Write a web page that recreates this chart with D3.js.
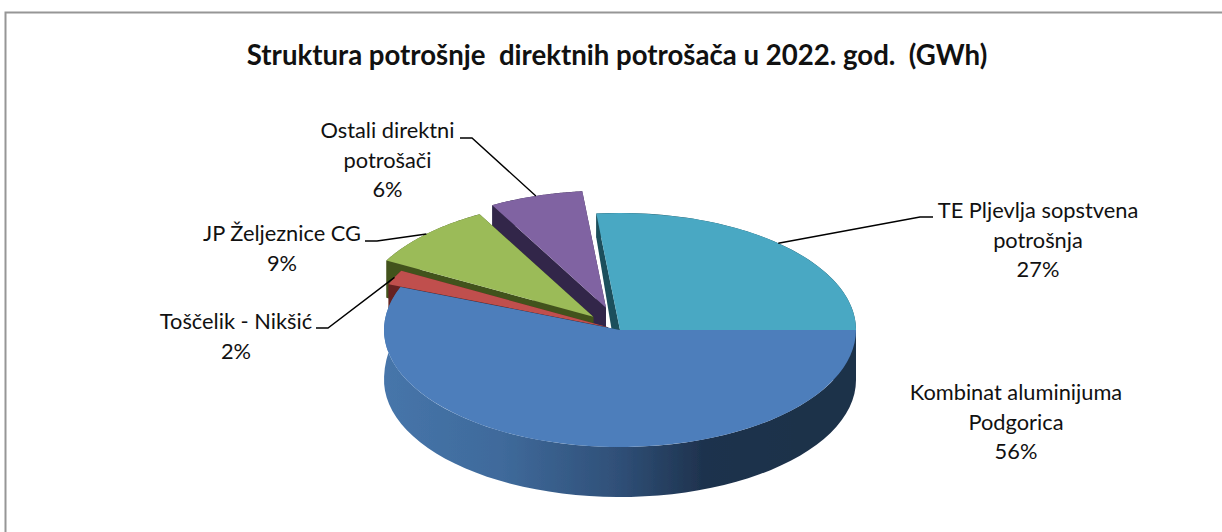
<!DOCTYPE html>
<html>
<head>
<meta charset="utf-8">
<script src="https://cdn.jsdelivr.net/npm/d3@7"></script>
<style>
  html, body { margin: 0; background: #fff; }
  text { font-family: Lato, "Open Sans", sans-serif; fill: #111; }
</style>
</head>
<body>
<svg></svg>
<script>
// Data, in drawing order clockwise from 3 o'clock
const titleText = "Struktura potrošnje  direktnih potrošača u 2022. god.  (GWh)";
const categories = [
  ["Kombinat aluminijuma", "Podgorica"],
  ["Toščelik - Nikšić"],
  ["JP Željeznice CG"],
  ["Ostali direktni", "potrošači"],
  ["TE Pljevlja sopstvena", "potrošnja"],
];
const shares = [56.0, 2.0, 9.0, 6.4, 26.6];

// Styling, one entry per slice
const explode = [0, 0.056, 0.16, 0.2, 0];
const topColors = ["#4d7ebb", "#c0504d", "#9bbb59", "#8064a2", "#4aa8c3"];
const wallColors = ["url(#blueWall)", "#662422", "#43531f", "#33274a", "#1d505c"];
// back to front
const paintOrder = [4, 3, 2, 1, 0];

// Label block centre, first baseline, leader elbow and leader tail
const labelLayout = [
  { x: 1016, y: 400 },
  { x: 236, y: 329, elbow: [328, 328], tail: 316 },
  { x: 282, y: 241, elbow: [377, 241], tail: 365 },
  { x: 387.5, y: 138, elbow: [472, 138], tail: 460 },
  { x: 1038, y: 218, elbow: [920, 217], tail: 933 },
];

const width = 1222;
const height = 532;
const cx = 620;
const cy = 330;
const rx = 236;
const ry = 117;
const depth = 50;
const lineHeight = 29.5;

const svg = d3.select("svg").attr("width", width).attr("height", height)
  .style("display", "block");

const defs = svg.append("defs");
const grad = defs.append("linearGradient")
  .attr("id", "blueWall")
  .attr("gradientUnits", "userSpaceOnUse")
  .attr("x1", cx - rx).attr("x2", cx + rx).attr("y1", 0).attr("y2", 0);
[[0, "#4675aa"], [0.25, "#3f6a9b"], [0.5, "#2f4f77"], [0.68, "#1e324d"], [1, "#1d3048"]]
  .forEach(([o, c]) => grad.append("stop").attr("offset", o).attr("stop-color", c));
defs.append("filter").attr("id", "soft")
  .append("feGaussianBlur").attr("stdDeviation", 0.55);

// Chart border runs off the right and bottom of the picture
svg.append("path")
  .attr("d", d3.line()([[5.5, height], [5.5, 12.5], [width, 12.5]]))
  .attr("fill", "none")
  .attr("stroke", "#969696")
  .attr("stroke-width", 2);

// Slices start at 3 o'clock
const pie = d3.pie().sort(null).startAngle(Math.PI / 2).endAngle(Math.PI * 2.5);
const slices = pie(shares).map((d, i) => {
  const start = d.startAngle - Math.PI / 2;
  const end = d.endAngle - Math.PI / 2;
  const mid = (start + end) / 2;
  return {
    arc: d,
    i,
    start,
    end,
    mid,
    ox: explode[i] * rx * Math.cos(mid),
    oy: explode[i] * ry * Math.sin(mid),
  };
});

// Point on a slice rim, back of the pie has a shorter wall (perspective)
const rimPoint = (s, t) => [
  cx + s.ox + rx * Math.cos(t),
  cy + s.oy + ry * Math.sin(t),
];
const wallDepth = (t) => (Math.sin(t) >= 0 ? depth : depth + 26 * Math.sin(t));

const arc = d3.arc().innerRadius(0).outerRadius(rx);
const closedLine = d3.line().curve(d3.curveLinearClosed);

const pieGroup = svg.append("g").attr("filter", "url(#soft)");

paintOrder.forEach((i) => {
  const s = slices[i];
  const apex = [cx + s.ox, cy + s.oy];
  const g = pieGroup.append("g");

  // Two cut faces
  [s.start, s.end].forEach((t) => {
    const p = rimPoint(s, t);
    g.append("path")
      .attr("d", closedLine([
        p, apex, [apex[0], apex[1] + depth], [p[0], p[1] + wallDepth(t)],
      ]))
      .attr("fill", i === 0 ? "#1e324d" : wallColors[i]);
  });

  // Outer wall
  const ts = d3.range(0, 61).map((k) => s.start + ((s.end - s.start) * k) / 60);
  const upper = ts.map((t) => rimPoint(s, t));
  const lower = ts.map((t) => {
    const p = rimPoint(s, t);
    return [p[0], p[1] + wallDepth(t)];
  }).reverse();
  g.append("path")
    .attr("d", closedLine(upper.concat(lower)))
    .attr("fill", wallColors[i]);

  // Top face
  g.append("path")
    .attr("d", arc(s.arc))
    .attr("transform", `translate(${apex}) scale(1, ${ry / rx})`)
    .attr("fill", topColors[i]);
});

// Leader lines
slices.forEach((s) => {
  const layout = labelLayout[s.i];
  if (!layout.elbow) return;
  svg.append("path")
    .attr("d", d3.line()([
      rimPoint(s, s.mid),
      layout.elbow,
      [layout.tail, layout.elbow[1]],
    ]))
    .attr("fill", "none")
    .attr("stroke", "#000")
    .attr("stroke-width", 1.4);
});

// Labels
slices.forEach((s) => {
  const layout = labelLayout[s.i];
  const lines = categories[s.i].concat(`${d3.format(".0f")(shares[s.i])}%`);
  svg.selectAll(null)
    .data(lines)
    .enter()
    .append("text")
    .attr("x", layout.x)
    .attr("y", (d, k) => layout.y + k * lineHeight)
    .attr("text-anchor", "middle")
    .style("font-size", "21.8px")
    .text((d) => d);
});

// Title
svg.append("text")
  .attr("x", 617)
  .attr("y", 65)
  .attr("text-anchor", "middle")
  .attr("xml:space", "preserve")
  .style("white-space", "pre")
  .style("font-size", "27.6px")
  .style("font-weight", "bold")
  .text(titleText);
</script>
</body>
</html>
